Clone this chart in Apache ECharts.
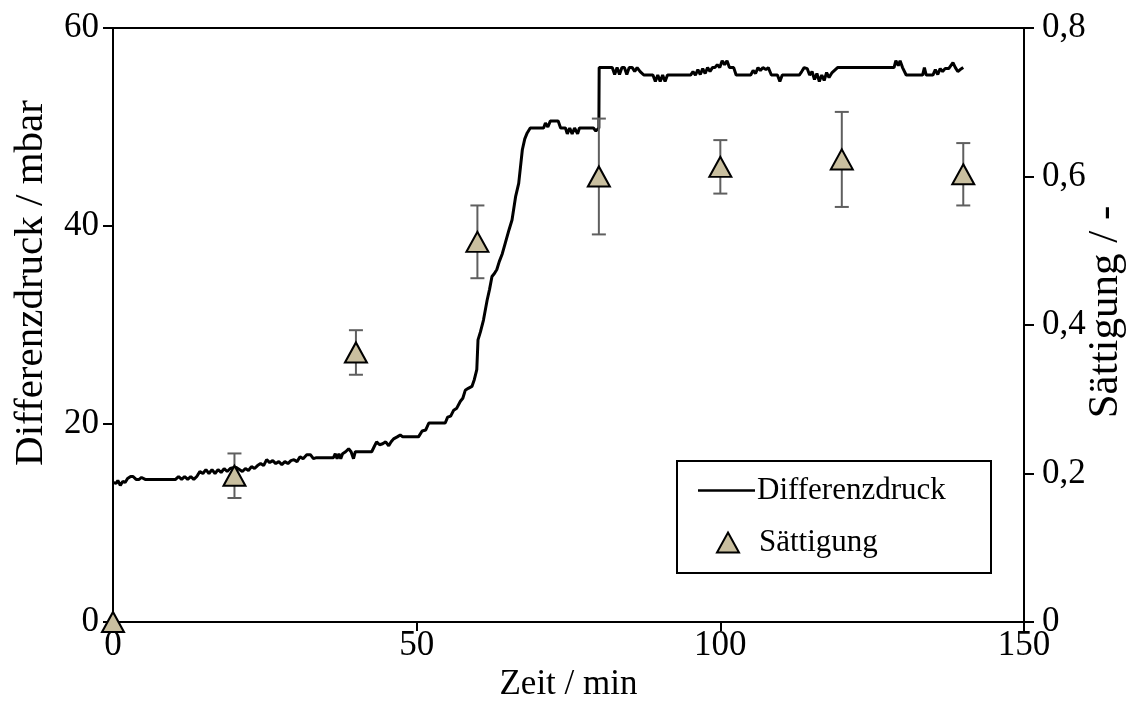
<!DOCTYPE html>
<html>
<head>
<meta charset="utf-8">
<script src="https://cdn.jsdelivr.net/npm/echarts@6/dist/echarts.min.js"></script>
<style>
  html, body { margin: 0; padding: 0; background: #ffffff; }
  #chart { width: 1130px; height: 702px; }
</style>
</head>
<body>
<div id="chart"></div>
<script>
// Differential pressure over time (min, mbar)
const zeitDruck = [
  0, 0.5, 0.8, 1.2, 1.6, 2.0, 2.4, 2.9, 3.3, 3.8, 4.3, 4.7, 5.3,
  10.3, 10.8, 11.3, 11.8, 12.3, 12.8, 13.3, 13.8, 14.3, 14.8, 15.3, 15.8,
  16.3, 16.8, 17.3, 17.8, 18.3, 18.8, 19.3, 19.8, 20.3, 20.8, 21.3, 21.8,
  22.3, 22.8, 23.3, 23.8, 24.3, 24.8, 25.3, 25.8, 26.3, 26.8, 27.3, 27.8,
  28.3, 28.8, 29.3, 29.8, 30.3, 30.8, 31.3, 31.9, 32.5, 33.0, 33.5, 34.1,
  36.3, 36.6, 36.9, 37.2, 37.5, 37.8, 38.3, 38.8, 39.2, 39.6, 39.9,
  42.6, 43.0, 43.4, 43.9, 44.4, 44.9, 45.4, 45.8, 46.2, 46.8, 47.3, 47.7,
  50.3, 50.9, 51.5, 52.0, 54.7, 55.1, 55.6, 56.1, 56.6, 57.2, 57.6, 58.0,
  58.5, 59.1, 59.5, 59.9, 60.1, 60.5, 61.0, 61.6, 62.0, 62.4, 62.8, 63.2,
  63.6, 64.1, 64.6, 65.2, 65.7, 66.3, 66.8, 67.4, 67.8, 68.2, 68.7,
  70.9, 71.2, 71.6, 72.0, 73.3, 73.7, 74.5, 74.8, 75.2, 75.6, 76.0, 76.5,
  76.8, 79.1, 79.5, 80.0, 80.05,
  82.2, 82.6, 83.0, 83.4, 83.8, 84.2, 84.6, 85.0, 85.5, 85.9, 86.3, 86.8,
  87.4, 88.9, 89.3, 89.7, 90.1, 90.5, 90.9, 91.3, 95.1, 95.5, 95.9, 96.3,
  96.7, 97.1, 97.5, 97.9, 98.3, 98.7, 99.1, 99.5, 99.9, 100.3, 100.7, 101.1,
  101.5, 102.2, 102.6, 105.0, 105.4, 105.8, 106.2, 106.6, 107.0, 107.5, 107.9,
  108.4, 109.4, 109.8, 110.2, 113.0, 113.4, 113.8, 114.3, 114.7, 115.1, 115.5,
  115.9, 116.3, 116.7, 117.1, 117.5, 117.9, 118.4, 119.3, 128.6, 128.9, 129.3,
  129.6, 130.0, 130.6, 133.3, 133.6, 133.9, 135.0, 135.4, 135.8, 136.2, 136.6,
  137.0, 137.6, 138.3, 138.7, 139.1, 139.5, 140.0
];
const druck = [
  14.1, 14.0, 14.3, 13.8, 14.2, 14.1, 14.5, 14.7, 14.7, 14.4, 14.4, 14.6, 14.4,
  14.4, 14.7, 14.4, 14.7, 14.4, 14.7, 14.4, 14.7, 15.2, 15.0, 15.4, 15.0,
  15.4, 15.0, 15.4, 15.1, 15.5, 15.2, 15.5, 15.6, 15.6, 15.4, 15.2, 15.5,
  15.3, 15.7, 15.5, 15.8, 16.0, 15.8, 16.4, 16.1, 16.3, 16.0, 16.2, 15.9,
  16.2, 16.0, 16.3, 16.4, 16.2, 16.7, 16.5, 16.9, 16.9, 16.5, 16.6, 16.6,
  16.6, 17.0, 16.5, 17.0, 16.5, 17.0, 17.2, 17.5, 17.2, 16.5, 17.2,
  17.2, 17.7, 18.2, 17.9, 18.0, 18.2, 17.8, 18.2, 18.5, 18.7, 18.9, 18.7,
  18.7, 19.3, 19.4, 20.1, 20.1, 20.7, 20.8, 21.4, 21.6, 22.3, 22.6, 23.4,
  23.6, 23.8, 24.5, 25.5, 28.5, 29.3, 30.5, 32.5, 33.6, 34.9, 35.2, 35.6,
  36.4, 37.2, 38.3, 39.6, 40.6, 43.0, 44.3, 47.7, 48.8, 49.4, 49.9,
  49.9, 50.4, 50.0, 50.6, 50.6, 49.9, 49.9, 49.3, 49.9, 49.3, 49.9, 49.3,
  49.9, 49.9, 49.6, 49.9, 56.0,
  56.0, 55.3, 56.0, 55.3, 56.0, 56.0, 55.3, 56.0, 56.0, 55.6, 56.0, 55.6,
  55.25, 55.25, 54.6, 55.25, 54.6, 55.25, 54.6, 55.25, 55.25, 55.6, 55.25, 55.8,
  55.3, 55.9, 55.4, 56.0, 55.6, 56.0, 56.0, 56.3, 56.0, 56.7, 56.3, 56.7,
  56.0, 56.0, 55.25, 55.25, 55.7, 55.4, 56.0, 55.7, 56.0, 55.8, 56.0,
  55.25, 55.25, 54.6, 55.25, 55.25, 55.6, 56.0, 55.9, 55.25, 55.6, 54.8,
  55.4, 54.6, 55.25, 54.7, 55.5, 55.0, 55.5, 56.0, 56.0, 56.7, 56.2,
  56.7, 56.0, 55.25, 55.25, 56.0, 55.25, 55.25, 55.8, 55.3, 55.9, 55.6,
  55.9, 55.9, 56.5, 56.0, 55.6, 55.8, 56.0
];

// Saturation samples with standard deviation
const zeitProbe = [0, 20, 40, 60, 80, 100, 120, 140];
const saettigung = [0, 0.197, 0.363, 0.512, 0.600, 0.613, 0.623, 0.603];
const saettigungFehler = [0, 0.030, 0.030, 0.049, 0.078, 0.036, 0.064, 0.042];

// Axis ranges
const xTicks = { min: 0, max: 150, interval: 50 };
const yDruckTicks = { min: 0, max: 60, interval: 20 };
const ySaettTicks = { min: 0, max: 0.8, interval: 0.2 };

const druckData = zeitDruck.map((t, i) => [t, druck[i]]);
const saettData = zeitProbe.map((t, i) => [t, saettigung[i]]);
const fehlerData = zeitProbe
  .map((t, i) => [t, saettigung[i] - saettigungFehler[i], saettigung[i] + saettigungFehler[i], saettigungFehler[i]])
  .filter(d => d[3] > 0);

const FONT = '"Liberation Serif", "Times New Roman", serif';
const axisLabelStyle = { color: '#000', fontFamily: FONT, fontSize: 35 };

const chart = echarts.init(document.getElementById('chart'), null, { renderer: 'canvas' });

chart.setOption({
  backgroundColor: '#ffffff',
  animation: false,
  grid: {
    left: 113, right: 106, top: 28, bottom: 80,
    outerBoundsMode: 'none',
    containLabel: false,
    show: true, borderColor: '#000', borderWidth: 2, backgroundColor: 'transparent'
  },
  xAxis: {
    type: 'value',
    min: xTicks.min, max: xTicks.max, interval: xTicks.interval,
    name: 'Zeit / min',
    nameLocation: 'middle',
    nameGap: 45,
    nameMoveOverlap: false,
    nameTextStyle: { color: '#000', fontFamily: FONT, fontSize: 35 },
    axisLine: { show: true, onZero: false, lineStyle: { color: '#000', width: 2 } },
    axisTick: { show: true, inside: false, length: 9, lineStyle: { color: '#000', width: 2 } },
    axisLabel: Object.assign({ margin: 6 }, axisLabelStyle),
    splitLine: { show: false }
  },
  yAxis: [
    {
      type: 'value',
      position: 'left',
      min: yDruckTicks.min, max: yDruckTicks.max, interval: yDruckTicks.interval,
      name: 'Differenzdruck / mbar',
      nameLocation: 'middle',
      nameGap: 61,
      nameMoveOverlap: false,
      nameRotate: 90,
      nameTextStyle: { color: '#000', fontFamily: FONT, fontSize: 41, padding: [0, 0, 0, 84] },
      axisLine: { show: true, onZero: false, lineStyle: { color: '#000', width: 2 } },
      axisTick: { show: true, inside: false, length: 10, lineStyle: { color: '#000', width: 2 } },
      axisLabel: Object.assign({ margin: 14 }, axisLabelStyle),
      splitLine: { show: false }
    },
    {
      type: 'value',
      position: 'right',
      min: ySaettTicks.min, max: ySaettTicks.max, interval: ySaettTicks.interval,
      name: 'Sättigung / -',
      nameLocation: 'middle',
      nameGap: 60,
      nameMoveOverlap: false,
      nameRotate: 90,
      nameTextStyle: { color: '#000', fontFamily: FONT, fontSize: 43, padding: [0, 0, 0, 26] },
      axisLine: { show: true, onZero: false, lineStyle: { color: '#000', width: 2 } },
      axisTick: { show: true, inside: false, length: 10, lineStyle: { color: '#000', width: 2 } },
      axisLabel: Object.assign({
        margin: 18,
        formatter: v => (Math.round(v * 10) / 10).toString().replace('.', ',')
      }, axisLabelStyle),
      splitLine: { show: false }
    }
  ],
  legend: [
    {
      data: [{ name: 'Differenzdruck', icon: 'rect' }],
      left: 698, top: 475,
      itemWidth: 57, itemHeight: 2.6,
      itemGap: 0, padding: 0,
      itemStyle: { color: '#000', borderWidth: 0 },
      textStyle: { color: '#000', fontFamily: FONT, fontSize: 31, padding: [0, 0, 0, -3] },
      selectedMode: false
    },
    {
      data: [{ name: 'Sättigung', icon: 'triangle' }],
      left: 716, top: 527,
      itemWidth: 22, itemHeight: 20,
      itemGap: 0, padding: 0,
      textStyle: { color: '#000', fontFamily: FONT, fontSize: 31, padding: [6, 0, 0, 15] },
      selectedMode: false
    }
  ],
  graphic: [
    {
      type: 'rect',
      left: 676, top: 460,
      shape: { width: 314, height: 112 },
      style: { fill: 'transparent', stroke: '#000', lineWidth: 2 },
      z: 10
    }
  ],
  series: [
    {
      name: 'Differenzdruck',
      type: 'line',
      yAxisIndex: 0,
      data: druckData,
      symbol: 'none',
      showSymbol: false,
      lineStyle: { color: '#000', width: 3 },
      itemStyle: { color: '#000' },
      z: 2
    },
    {
      name: 'Fehler',
      type: 'custom',
      yAxisIndex: 1,
      data: fehlerData,
      clip: false,
      z: 3,
      renderItem: (params, api) => {
        const x = api.value(0);
        const lo = api.coord([x, api.value(1)]);
        const hi = api.coord([x, api.value(2)]);
        const cap = 7;
        const st = { stroke: '#5f5f5f', lineWidth: 2 };
        return {
          type: 'group',
          children: [
            { type: 'line', shape: { x1: lo[0], y1: lo[1], x2: hi[0], y2: hi[1] }, style: st },
            { type: 'line', shape: { x1: lo[0] - cap, y1: lo[1], x2: lo[0] + cap, y2: lo[1] }, style: st },
            { type: 'line', shape: { x1: hi[0] - cap, y1: hi[1], x2: hi[0] + cap, y2: hi[1] }, style: st }
          ]
        };
      }
    },
    {
      name: 'Sättigung',
      type: 'scatter',
      yAxisIndex: 1,
      data: saettData,
      symbol: 'triangle',
      symbolSize: [22, 20],
      clip: false,
      itemStyle: { color: '#c9bf9f', borderColor: '#000', borderWidth: 2, opacity: 1 },
      z: 4
    }
  ]
});
</script>
</body>
</html>
